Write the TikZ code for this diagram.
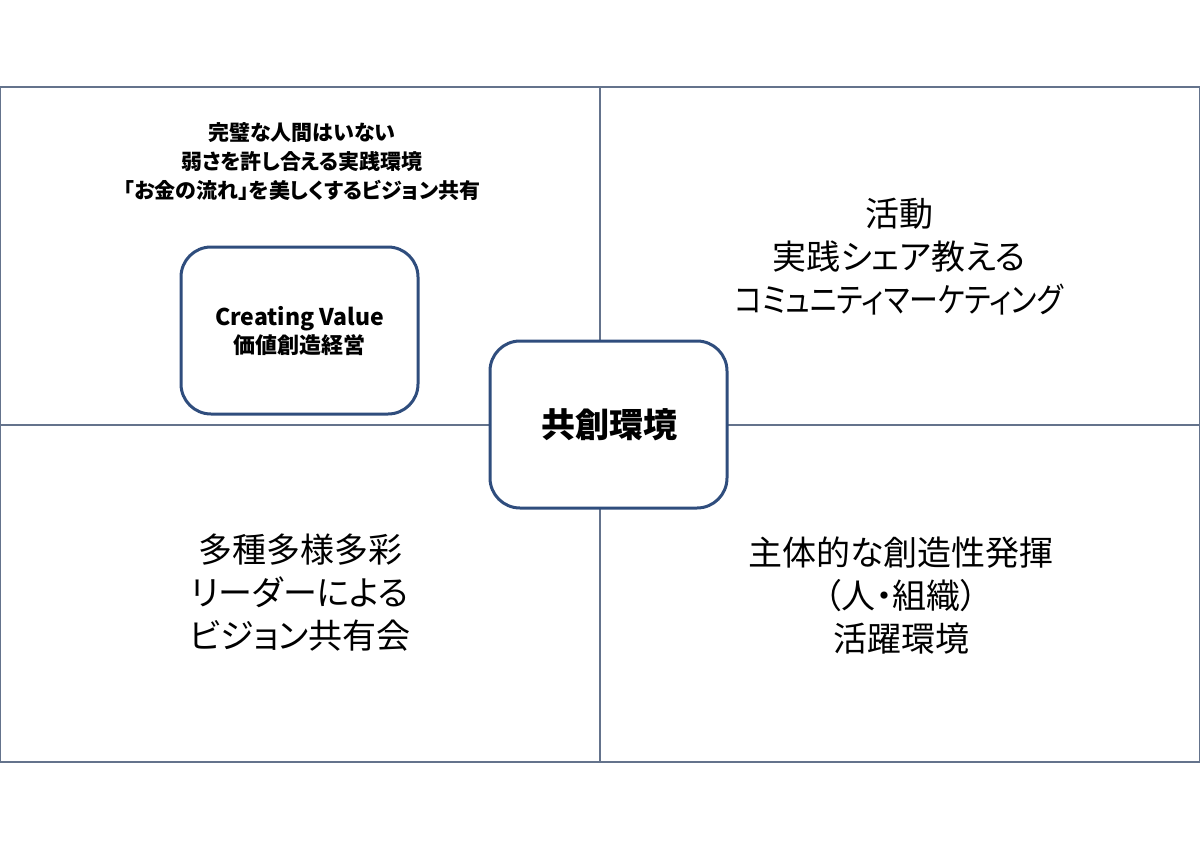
\documentclass[tikz,border=0pt]{standalone}
\usepackage{fontspec}
\setmainfont{Noto Sans CJK JP}[RawFeature={+palt}]
\definecolor{gridline}{RGB}{100,115,140}
\definecolor{boxblue}{RGB}{47,77,125}
\tikzset{
  quad/.style={draw=gridline, line width=1.1pt},
  rbox/.style={draw=boxblue, line width=3pt, fill=white, rounded corners=30pt,
    minimum width=237pt, minimum height=167pt, inner sep=0pt},
  bigtext/.style={align=center, font=\fontsize{34}{43}\selectfont, inner sep=0pt},
  headtext/.style={align=center, font=\bfseries\fontsize{21}{29}\selectfont, inner sep=0pt},
}
\begin{document}
\begin{tikzpicture}[x=1pt,y=-1pt]
\useasboundingbox (0,0) rectangle (1200,849);
% quadrant frame
\draw[quad] (0.6,87) rectangle (1199.4,762);
\draw[quad] (600,87) -- (600,762);
\draw[quad] (0,425) -- (1200,425);
% top-left heading
\node[headtext] (head) at (302,162) {完璧な人間はいない\\弱さを許し合える実践環境\\「お金の流れ」を美しくするビジョン共有};
% left box
\node[rbox] (cv) at (299.5,330.5) {};
\node[align=center, font=\bfseries\fontsize{22}{28}\selectfont, inner sep=0pt] (cvtext) at (299.5,331) {{\fontsize{23}{28}\selectfont Creating Value}\\価値創造経営};
% center box
\node[rbox] (center) at (608.5,424.5) {};
\node[font=\bfseries\fontsize{34}{40}\selectfont, inner sep=0pt] (centertext) at (609,425) {共創環境};
% quadrant texts
\node[bigtext] (tr) at (899,257) {活動\\実践シェア教える\\\scalebox{0.85}[1]{コミュニティマーケティング}};
\node[bigtext] (bl) at (300,593) {多種多様多彩\\リーダーによる\\ビジョン共有会};
\node[bigtext] (br) at (901,596) {主体的な創造性発揮\\（人・組織）\\活躍環境};
\end{tikzpicture}
\end{document}
